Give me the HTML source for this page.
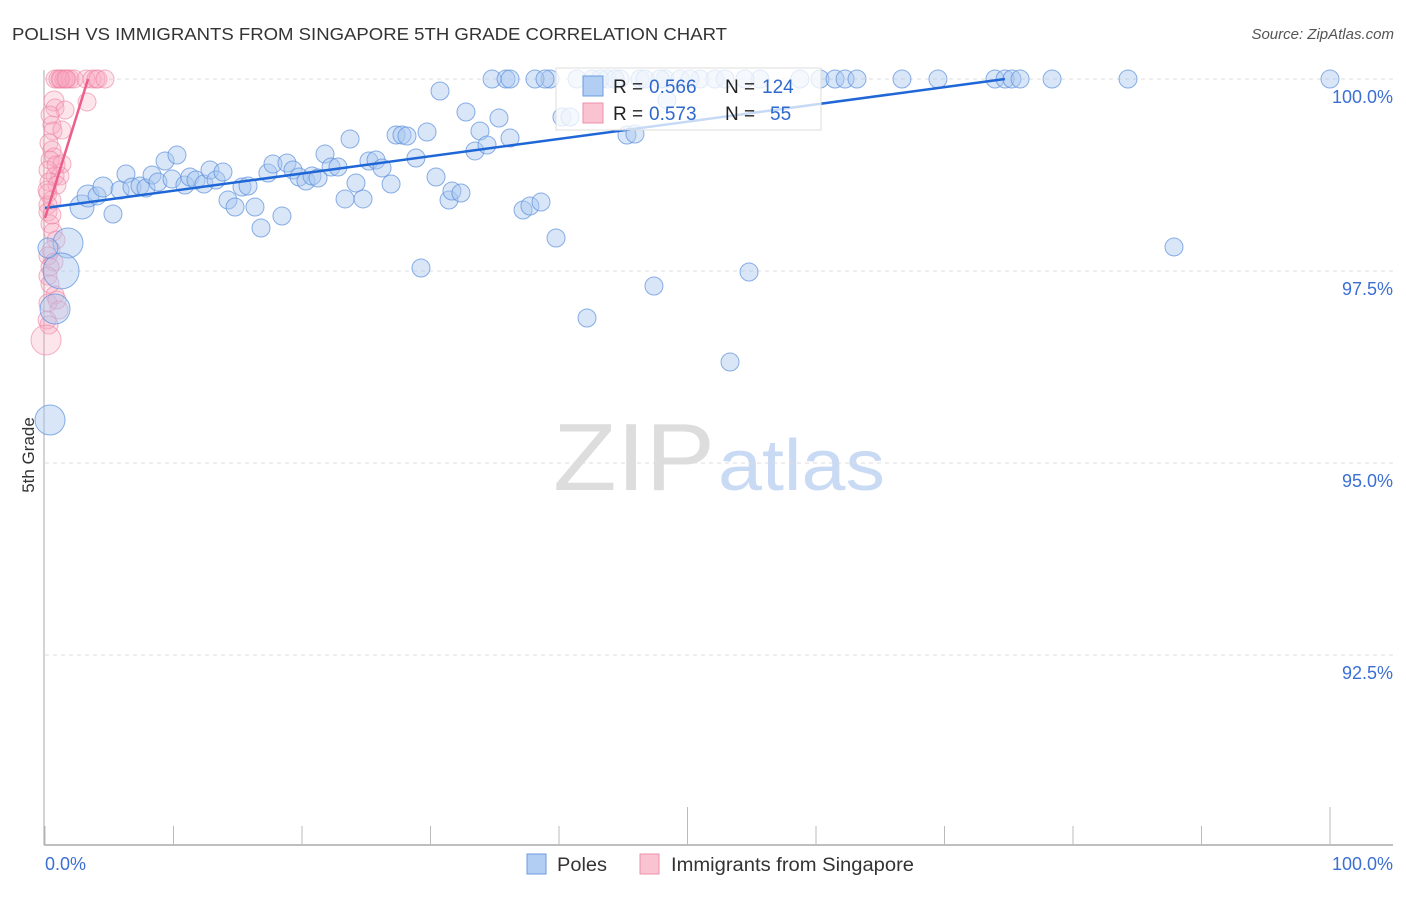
<!DOCTYPE html>
<html><head><meta charset="utf-8"><style>
body{margin:0;background:#fff;font-family:"Liberation Sans",sans-serif;}
svg text{font-family:"Liberation Sans",sans-serif;}
</style></head><body>
<svg id="c" width="1406" height="892" xmlns="http://www.w3.org/2000/svg">
<text x="12" y="40" font-size="17.5" fill="#333" textLength="715" lengthAdjust="spacingAndGlyphs">POLISH VS IMMIGRANTS FROM SINGAPORE 5TH GRADE CORRELATION CHART</text>
<text x="1394" y="39" font-size="15" fill="#555" font-style="italic" text-anchor="end">Source: ZipAtlas.com</text>
<text x="34" y="455" font-size="17" fill="#333" text-anchor="middle" transform="rotate(-90 34 455)">5th Grade</text>
<g><text x="553" y="490" font-size="96" fill="#ddd" font-family="Liberation Serif, serif" textLength="162" lengthAdjust="spacingAndGlyphs">ZIP</text><text x="718" y="490" font-size="72" fill="#c9daf4" textLength="167" lengthAdjust="spacingAndGlyphs">atlas</text></g>
<g id="grid"></g><g id="axes"></g><g id="pink"></g><g id="blue"></g><g id="trend"></g>
<g>
<rect x="556" y="68" width="265" height="62" fill="#fff" fill-opacity="0.75" stroke="#ddd"/>
<rect x="583" y="76" width="20" height="20" fill="#b3cef3" stroke="#6b9be0"/>
<rect x="583" y="103" width="20" height="20" fill="#fac3d2" stroke="#ee8fab"/>
<text y="93" font-size="19" fill="#222"><tspan x="613">R =</tspan><tspan x="649" fill="#2f68cc">0.566</tspan><tspan x="725">N =</tspan><tspan x="762" fill="#2f68cc">124</tspan></text>
<text y="120" font-size="19" fill="#222"><tspan x="613">R =</tspan><tspan x="649" fill="#2f68cc">0.573</tspan><tspan x="725">N =</tspan><tspan x="770" fill="#2f68cc">55</tspan></text>
</g>
<g>
<rect x="527" y="854" width="19" height="20" fill="#b3cef3" stroke="#6b9be0"/>
<text x="557" y="871" font-size="19" fill="#333" textLength="50" lengthAdjust="spacingAndGlyphs">Poles</text>
<rect x="640" y="854" width="19" height="20" fill="#fac3d2" stroke="#ee8fab"/>
<text x="671" y="871" font-size="19" fill="#333" textLength="243" lengthAdjust="spacingAndGlyphs">Immigrants from Singapore</text>
</g>
</svg>
<script>
const yTicks=[100,97.5,95,92.5];
const yTickLabels=["100.0%","97.5%","95.0%","92.5%"];
const xLabels=["0.0%","100.0%"];
const bluePx=[[82,207,12],[88,196,11],[97,196,9],[103,187,10],[113,214,9],[120,190,9],[126,174,9],[132,187,9],[140,186,9],[146,188,9],[152,175,9],[158,182,9],[165,161,9],[172,179,9],[177,155,9],[185,185,9],[190,177,9],[196,180,9],[204,184,9],[210,170,9],[216,180,9],[223,172,9],[228,200,9],[235,207,9],[242,187,9],[248,186,9],[255,207,9],[261,228,9],[268,173,9],[273,164,9],[282,216,9],[287,163,9],[293,170,9],[299,177,9],[306,181,9],[312,176,9],[318,178,9],[325,154,9],[331,167,9],[338,167,9],[345,199,9],[350,139,9],[356,183,9],[363,199,9],[369,161,9],[376,160,9],[382,168,9],[391,184,9],[396,135,9],[402,135,9],[407,136,9],[416,158,9],[421,268,9],[427,132,9],[436,177,9],[440,91,9],[449,200,9],[452,191,9],[461,193,9],[466,112,9],[475,151,9],[480,131,9],[487,145,9],[492,79,9],[499,118,9],[506,79,9],[510,138,9],[523,210,9],[530,206,9],[541,202,9],[550,79,9],[556,238,9],[562,117,9],[570,117,9],[577,79,9],[587,318,9],[592,79,9],[607,79,9],[620,79,9],[627,135,9],[635,134,9],[640,79,9],[654,286,9],[665,79,9],[667,100,9],[680,79,9],[700,79,9],[715,79,9],[730,362,9],[749,272,9],[760,79,9],[800,79,9],[820,79,9],[835,79,9],[845,79,9],[857,79,9],[902,79,9],[938,79,9],[995,79,9],[1005,79,9],[1012,79,9],[1020,79,9],[1052,79,9],[1128,79,9],[1174,247,9],[1330,79,9],[68,243,15],[61,271,18],[55,309,15],[50,420,15],[48,248,10],[510,79,9],[535,79,9],[545,79,9],[600,79,9],[615,79,9],[645,79,9],[660,79,9],[690,79,9],[725,79,9],[745,79,9]];
const pinkPx=[[55,79,9],[58,79,9],[61,79,9],[64,79,9],[67,79,9],[70,79,9],[74,79,9],[86,79,9],[92,79,9],[96,79,9],[98,79,9],[105,79,9],[87,102,9],[54,101,10],[55,108,9],[65,110,9],[52,125,9],[53,131,9],[62,130,9],[49,143,9],[52,150,9],[54,157,9],[50,160,9],[62,164,9],[48,170,9],[55,176,9],[60,176,9],[49,182,9],[57,185,9],[48,193,9],[52,200,9],[48,205,9],[48,212,9],[50,224,9],[53,232,9],[56,240,9],[51,250,9],[48,256,9],[54,262,9],[50,267,9],[48,276,9],[50,284,9],[55,295,9],[48,303,9],[57,300,9],[59,310,9],[47,320,9],[49,325,9],[46,340,15],[52,215,9],[47,190,9],[56,165,9],[50,115,9],[60,79,9],[66,79,9]];
const blueX=bluePx.map(p=>+((p[0]-45)/1285*100).toFixed(2));
const blueY=bluePx.map(p=>+(100-(p[1]-79)/192*2.5).toFixed(3));
const blueR=bluePx.map(p=>p[2]);
const pinkX=pinkPx.map(p=>+((p[0]-45)/1285*100).toFixed(2));
const pinkY=pinkPx.map(p=>+(100-(p[1]-79)/192*2.5).toFixed(3));
const pinkR=pinkPx.map(p=>p[2]);
const blueTrend=[[0,98.32],[74.7,100]];
const pinkTrend=[[0,98.19],[3.35,100]];
const X=v=>45+v/100*1285, Y=v=>79+(100-v)/2.5*192;
const NS="http://www.w3.org/2000/svg";
function mk(t,a,p){const e=document.createElementNS(NS,t);for(const k in a)e.setAttribute(k,a[k]);document.getElementById(p).appendChild(e);return e;}
yTicks.forEach((v,i)=>{
 const l=mk('line',{x1:45,x2:1393,y1:Y(v),y2:Y(v),stroke:'#ddd','stroke-dasharray':'4,4'},'grid');
 
 
 const t=mk('text',{x:1393,y:Y(v)+24,'font-size':18,fill:'#3b6fd4','text-anchor':'end'},'grid');t.textContent=yTickLabels[i];
 
 
});
mk('line',{x1:44,x2:44,y1:70,y2:845,stroke:'#aaa'},'axes');
mk('line',{x1:44,x2:1393,y1:845,y2:845,stroke:'#aaa','stroke-width':1.5},'axes');
for(let i=0;i<=10;i++){const tall=(i==5||i==10);const l=mk('line',{x1:X(i*10),x2:X(i*10),y1:tall?807:826,y2:845,stroke:'#bbb'},'axes');
 
 }
let t1=mk('text',{x:45,y:870,'font-size':18,fill:'#3b6fd4'},'axes');t1.textContent=xLabels[0];


let t2=mk('text',{x:1393,y:870,'font-size':18,fill:'#3b6fd4','text-anchor':'end'},'axes');t2.textContent=xLabels[1];


pinkX.forEach((x,i)=>{const c=mk('circle',{cx:X(x),cy:Y(pinkY[i]),r:pinkR[i],fill:'#f7a8c0','fill-opacity':0.3,stroke:'#ec7fa0','stroke-opacity':0.6},'pink');
 
 });
blueX.forEach((x,i)=>{const c=mk('circle',{cx:X(x),cy:Y(blueY[i]),r:blueR[i],fill:'#a9c7f0','fill-opacity':0.45,stroke:'#5b8fdc','stroke-opacity':0.7},'blue');
 
 });
const bl=mk('line',{x1:X(blueTrend[0][0]),y1:Y(blueTrend[0][1]),x2:X(blueTrend[1][0]),y2:Y(blueTrend[1][1]),stroke:'#1f67d6','stroke-width':2.5},'trend');


const pl=mk('line',{x1:X(pinkTrend[0][0]),y1:Y(pinkTrend[0][1]),x2:X(pinkTrend[1][0]),y2:Y(pinkTrend[1][1]),stroke:'#ec5f8a','stroke-width':2.5},'trend');


</script>
</body></html>
